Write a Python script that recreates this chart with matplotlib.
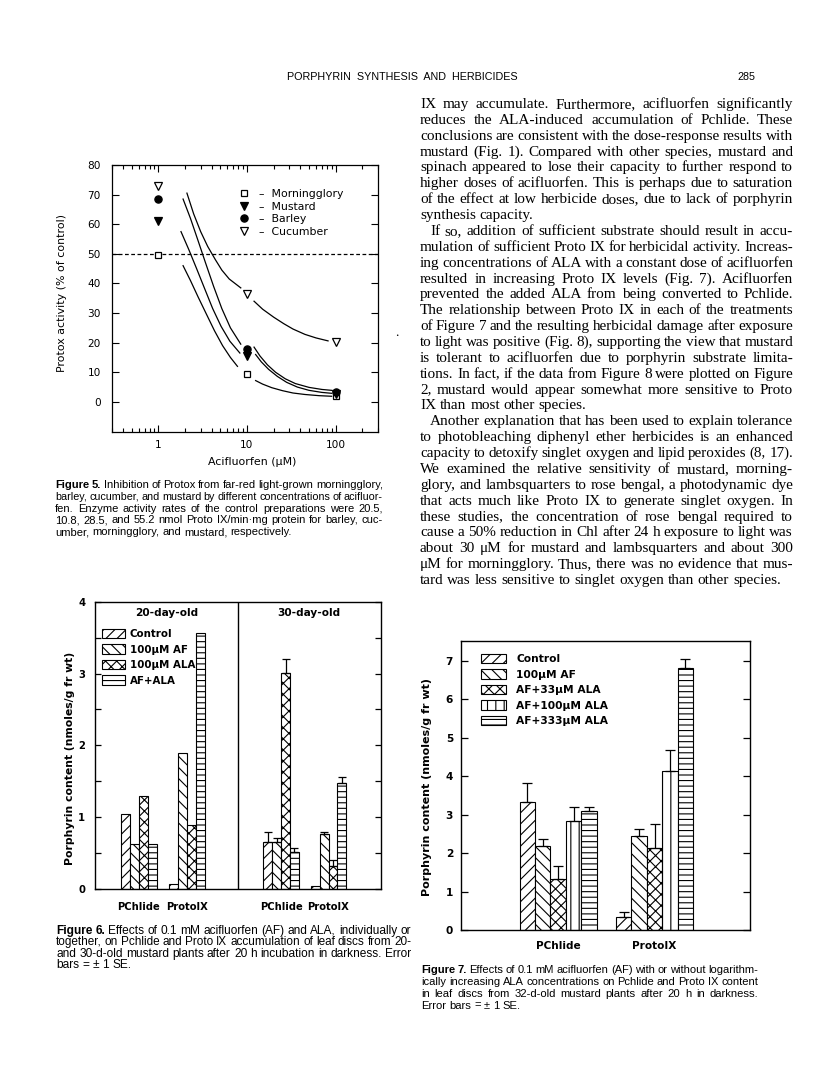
import matplotlib
matplotlib.use("Agg")
import matplotlib.pyplot as plt
import numpy as np
from matplotlib.font_manager import FontProperties
from matplotlib.lines import Line2D
from matplotlib.patches import Patch
from matplotlib.ticker import MultipleLocator, LogLocator, NullFormatter

W, H = 816, 1073
plt.rcParams['font.family'] = ['DejaVu Sans']
plt.rcParams['hatch.linewidth'] = 0.8

# ---------------- Figure 5 data ----------------
conc = [1, 10, 100]
species = ["Morningglory", "Mustard", "Barley", "Cucumber"]
morningglory = [49.5, 9.5, 2.0]
mustard = [61.0, 15.5, 2.8]
barley = [68.5, 18.0, 3.5]
cucumber = [73.0, 36.5, 20.2]
# fitted curves (drawn with gaps around the points)
cucumber_fit = [([2.1, 2.5, 3.0, 3.6, 4.4, 5.2, 6.3, 8.5],
                 [70.5, 63.5, 57.5, 52.5, 48.0, 44.5, 41.5, 38.5]),
                ([12, 15, 20, 26, 33, 45, 60, 82],
                 [34.0, 31.3, 28.6, 26.4, 24.6, 22.8, 21.6, 20.6])]
barley_fit = [([1.9, 2.3, 2.8, 3.4, 4.2, 5.2, 6.5, 8.5],
               [68.5, 62.0, 54.5, 47.0, 39.0, 31.5, 25.0, 19.5]),
              ([12, 14, 17, 21, 27, 35, 50, 70, 90],
               [18.5, 15.5, 12.5, 10.0, 7.8, 6.2, 4.9, 4.2, 3.9])]
mustard_fit = [([1.8, 2.2, 2.7, 3.3, 4.1, 5.1, 6.4, 8.3],
                [57.5, 51.5, 45.0, 38.5, 31.5, 25.5, 20.5, 16.5]),
               ([12.5, 14.5, 17.5, 22, 28, 37, 50, 70, 90],
                [16.0, 13.5, 11.0, 8.6, 6.6, 5.0, 3.9, 3.2, 2.9])]
morningglory_fit = [([1.9, 2.3, 2.8, 3.5, 4.3, 5.3, 6.5, 7.8],
                     [46.0, 41.0, 35.5, 29.5, 24.0, 19.0, 15.0, 12.0]),
                    ([12.5, 15, 19, 25, 33, 45, 65, 90],
                     [7.2, 6.0, 4.8, 3.8, 3.0, 2.5, 2.1, 1.9])]

# ---------------- Figure 6 data ----------------
groups6 = ["PChlide", "ProtoIX", "PChlide", "ProtoIX"]
treat6 = ["Control", "100μM AF", "100μM ALA", "AF+ALA"]
day20_pchlide = [1.05, 0.63, 1.29, 0.63]
day20_protoix = [0.07, 1.89, 0.89, 3.57]
day30_pchlide = [0.65, 0.66, 3.01, 0.51]
day30_pchlide_se = [0.14, 0.05, 0.19, 0.06]
day30_protoix = [0.04, 0.77, 0.32, 1.47]
day30_protoix_se = [0.0, 0.03, 0.08, 0.09]

# ---------------- Figure 7 data ----------------
groups7 = ["PChlide", "ProtoIX"]
treat7 = ["Control", "100μM AF", "AF+33μM ALA", "AF+100μM ALA", "AF+333μM ALA"]
pchlide7 = [3.32, 2.19, 1.33, 2.85, 3.10]
pchlide7_se = [0.50, 0.19, 0.34, 0.36, 0.09]
protoix7 = [0.35, 2.45, 2.14, 4.15, 6.81]
protoix7_se = [0.13, 0.18, 0.62, 0.54, 0.24]

# ---------------- page text ----------------
header = "PORPHYRIN  SYNTHESIS  AND  HERBICIDES"
page_no = "285"
caption5 = [["Figure 5. Inhibition of Protox from far-red light-grown morningglory,",
             "barley, cucumber, and mustard by different concentrations of acifluor-",
             "fen. Enzyme activity rates of the control preparations were 20.5,",
             "10.8, 28.5, and 55.2 nmol Proto IX/min·mg protein for barley, cuc-",
             "umber, morningglory, and mustard, respectively."]]
caption6 = [["Figure 6. Effects of 0.1 mM acifluorfen (AF) and ALA, individually or",
             "together, on Pchlide and Proto IX accumulation of leaf discs from 20-",
             "and 30-d-old mustard plants after 20 h incubation in darkness. Error",
             "bars = ± 1 SE."]]
caption7 = [["Figure 7. Effects of 0.1 mM acifluorfen (AF) with or without logarithm-",
             "ically increasing ALA concentrations on Pchlide and Proto IX content",
             "in leaf discs from 32-d-old mustard plants after 20 h in darkness.",
             "Error bars = ± 1 SE."]]
body = [
    ["IX may accumulate. Furthermore, acifluorfen significantly",
     "reduces the ALA-induced accumulation of Pchlide. These",
     "conclusions are consistent with the dose-response results with",
     "mustard (Fig. 1). Compared with other species, mustard and",
     "spinach appeared to lose their capacity to further respond to",
     "higher doses of acifluorfen. This is perhaps due to saturation",
     "of the effect at low herbicide doses, due to lack of porphyrin",
     "synthesis capacity."],
    ["If so, addition of sufficient substrate should result in accu-",
     "mulation of sufficient Proto IX for herbicidal activity. Increas-",
     "ing concentrations of ALA with a constant dose of acifluorfen",
     "resulted in increasing Proto IX levels (Fig. 7). Acifluorfen",
     "prevented the added ALA from being converted to Pchlide.",
     "The relationship between Proto IX in each of the treatments",
     "of Figure 7 and the resulting herbicidal damage after exposure",
     "to light was positive (Fig. 8), supporting the view that mustard",
     "is tolerant to acifluorfen due to porphyrin substrate limita-",
     "tions. In fact, if the data from Figure 8 were plotted on Figure",
     "2, mustard would appear somewhat more sensitive to Proto",
     "IX than most other species."],
    ["Another explanation that has been used to explain tolerance",
     "to photobleaching diphenyl ether herbicides is an enhanced",
     "capacity to detoxify singlet oxygen and lipid peroxides (8, 17).",
     "We examined the relative sensitivity of mustard, morning-",
     "glory, and lambsquarters to rose bengal, a photodynamic dye",
     "that acts much like Proto IX to generate singlet oxygen. In",
     "these studies, the concentration of rose bengal required to",
     "cause a 50% reduction in Chl after 24 h exposure to light was",
     "about 30 μM for mustard and lambsquarters and about 300",
     "μM for morningglory. Thus, there was no evidence that mus-",
     "tard was less sensitive to singlet oxygen than other species."],
]

fig = plt.figure(figsize=(W / 100, H / 100), dpi=100)
fig.patch.set_facecolor('white')
renderer = fig.canvas.get_renderer()


def add_axes_px(left, top, right, bottom):
    return fig.add_axes([left / W, 1 - bottom / H, (right - left) / W, (bottom - top) / H])


def fy(y):
    return 1 - y / H


def text_width(s, prop):
    t = fig.text(0, 0, s, fontproperties=prop)
    w = t.get_window_extent(renderer).width
    t.remove()
    return w


def typeset(paras, x0, x1, y0, dy, family, bold_lead=0, indent=0.0,
            min_space=0.8, pct=35):
    """Justified text block, one Text per word; tight lines get a slightly smaller size."""
    rows = []
    for pi, para in enumerate(paras):
        for li, line in enumerate(para):
            words = line.split()
            flags = [pi == 0 and li == 0 and k < bold_lead for k in range(len(words))]
            ind = indent if (li == 0 and pi > 0) else 0.0
            rows.append((words, flags, ind, li < len(para) - 1))
    base = 10.0
    props = {b: FontProperties(family=family, size=base, weight='bold' if b else 'normal')
             for b in (False, True)}
    sp = text_width('n n', props[False]) - text_width('nn', props[False])
    fits = []
    for words, flags, ind, just in rows:
        nat = sum(text_width(w, props[b]) for w, b in zip(words, flags))
        nat += min_space * sp * (len(words) - 1)
        fits.append(base * (x1 - x0 - ind) / nat)
    size = float(np.percentile([f for f, r in zip(fits, rows) if r[3]], pct))
    for r, ((words, flags, ind, just), fit) in enumerate(zip(rows, fits)):
        s = min(size, fit * 0.995)
        lp = {b: FontProperties(family=family, size=s, weight='bold' if b else 'normal')
              for b in (False, True)}
        texts = [fig.text(0, 0, w, fontproperties=lp[b], va='baseline') for w, b in zip(words, flags)]
        ws = [t.get_window_extent(renderer).width for t in texts]
        gap = sp * s / base
        if just and len(ws) > 1:
            gap = (x1 - x0 - ind - sum(ws)) / (len(ws) - 1)
        x = x0 + ind
        yb = y0 + r * dy + 0.26 * size * 100 / 72
        for t, w in zip(texts, ws):
            t.set_position((x / W, fy(yb)))
            x += w + gap


# ---------------- page header and body ----------------
hp = FontProperties(family='Liberation Sans', size=10)
hsize = 10 * (517 - 287) / text_width(header, hp)
fig.text(287 / W, fy(77), header, family='Liberation Sans', size=hsize, va='center')
fig.text(755 / W, fy(77), page_no, family='Liberation Sans', size=hsize, va='center', ha='right')

typeset(body, 420, 793, 104, 15.87, 'Liberation Serif', indent=10, min_space=0.8, pct=8)
typeset(caption5, 55, 383, 485, 11.8, 'Liberation Sans', bold_lead=2)
typeset(caption6, 56, 411, 930.7, 11.5, 'Liberation Sans', bold_lead=2)
typeset(caption7, 421, 758, 970, 11.9, 'Liberation Sans', bold_lead=2)
fig.text(397 / W, fy(335), "•", size=4, ha='center', va='center')

# ---------------- Figure 5 ----------------
ax5 = add_axes_px(112, 165, 378, 431.5)
ax5.set_xscale('log')
ax5.set_xlim(0.3, 300)
ax5.set_ylim(-10, 80)
for fit in (cucumber_fit, barley_fit, mustard_fit, morningglory_fit):
    for xs, ys in fit:
        ax5.plot(xs, ys, color='black', lw=0.9, solid_joinstyle='round')
ax5.axhline(50, color='black', lw=0.9, ls=(0, (3, 2)))
styles5 = {"Morningglory": ('s', 'white', 4.6, morningglory),
           "Mustard": ('v', 'black', 5.2, mustard),
           "Barley": ('o', 'black', 5.2, barley),
           "Cucumber": ('v', 'white', 5.4, cucumber)}
for name in ["Cucumber", "Morningglory", "Mustard", "Barley"]:
    m, fc, ms, vals = styles5[name]
    ax5.plot(conc, vals, ls='none', marker=m, ms=ms, mfc=fc, mec='black', mew=0.9, zorder=3)
handles5 = [Line2D([], [], ls='none', marker=styles5[n][0], ms=styles5[n][2],
                   mfc=styles5[n][1], mec='black', mew=0.9) for n in species]
ax5.legend(handles5, ['–  ' + n for n in species], loc='upper left',
           bbox_to_anchor=(0.475, 0.91), frameon=False, fontsize=7.8,
           handlelength=1.0, handletextpad=0.9, labelspacing=0.24,
           borderpad=0, borderaxespad=0)
ax5.set_yticks(range(0, 81, 10))
ax5.set_xticks([1, 10, 100], ['1', '10', '100'])
ax5.xaxis.set_minor_locator(LogLocator(base=10, subs=range(2, 10)))
ax5.xaxis.set_minor_formatter(NullFormatter())
ax5.tick_params(which='both', direction='in', top=True, right=True, labelsize=7.6, width=0.8)
ax5.tick_params(which='major', length=5)
ax5.tick_params(which='minor', length=3)
ax5.tick_params(axis='y', pad=8)
ax5.tick_params(axis='x', pad=6)
ax5.set_xlabel("Acifluorfen (μM)", fontsize=7.9, va='center')
ax5.xaxis.set_label_coords((252.5 - 112) / 266, -(462 - 431.5) / 266.5)
ax5.set_ylabel("Protox activity (% of control)", fontsize=7.9, va='center')
ax5.yaxis.set_label_coords((62.3 - 112) / 266, 1 - (293 - 165) / 266.5)
for s in ax5.spines.values():
    s.set_linewidth(0.9)

# ---------------- Figure 6 ----------------
hatches6 = ['///', '\\\\\\', 'xxx', '---']
group_pos6 = [1.23, 2.57, 5.21, 6.54]
w6 = 0.25
ax6 = add_axes_px(95, 601.7, 380.7, 889)
ax6.set_xlim(0, 8)
ax6.set_ylim(0, 4)
table6 = [day20_pchlide, day20_protoix, day30_pchlide, day30_protoix]
se6 = [None, None, day30_pchlide_se, day30_protoix_se]
for i in range(len(treat6)):
    xs = [g + (i - 1.5) * w6 for g in group_pos6]
    ax6.bar(xs, [vals[i] for vals in table6], w6, color='white', edgecolor='black',
            lw=0.8, hatch=hatches6[i], zorder=2)
for g, vals, se in zip(group_pos6, table6, se6):
    if se is None:
        continue
    for i in range(len(vals)):
        if se[i] > 0:
            ax6.errorbar(g + (i - 1.5) * w6, vals[i], yerr=[[0], [se[i]]], fmt='none',
                         ecolor='black', elinewidth=0.9, capsize=3.2, capthick=0.9, zorder=3)
ax6.axvline(4, color='black', lw=1.0)
title_prop = FontProperties(weight='bold', size=7.6)
ax6.text(0.25, 1 - (613 - 601.7) / 287.3, "20-day-old", transform=ax6.transAxes,
         ha='center', va='center', fontproperties=title_prop)
ax6.text(0.75, 1 - (613 - 601.7) / 287.3, "30-day-old", transform=ax6.transAxes,
         ha='center', va='center', fontproperties=title_prop)
handles6 = [Patch(facecolor='white', edgecolor='black', hatch=h, lw=0.8) for h in hatches6]
ax6.legend(handles6, treat6, loc='upper left', bbox_to_anchor=(0.023, 0.905), frameon=False,
           prop=FontProperties(weight='bold', size=7.4), handlelength=2.25, handleheight=1.0,
           handletextpad=0.5, labelspacing=0.52, borderpad=0, borderaxespad=0)
ax6.set_xticks(group_pos6, groups6)
ax6.yaxis.set_major_locator(MultipleLocator(1))
ax6.yaxis.set_minor_locator(MultipleLocator(0.5))
ax6.tick_params(axis='x', length=0, pad=9)
ax6.tick_params(axis='y', which='both', direction='in', right=True, length=4, width=0.9, pad=7)
for lab in ax6.get_xticklabels() + ax6.get_yticklabels():
    lab.set_fontproperties(FontProperties(weight='bold', size=7.2))
ax6.set_ylabel("Porphyrin content (nmoles/g fr wt)",
               fontproperties=FontProperties(weight='bold', size=7.8), va='center')
ax6.yaxis.set_label_coords((70 - 95) / 285.7, 1 - (758 - 601.7) / 287.3)
for s in ax6.spines.values():
    s.set_linewidth(1.0)

# ---------------- Figure 7 ----------------
hatches7 = ['///', '\\\\\\', 'xxx', '||', '---']
group_pos7 = [1.01, 2.01]
w7 = 0.16
ax7 = add_axes_px(460.7, 640.7, 750, 930)
ax7.set_xlim(0, 3)
ax7.set_ylim(0, 7.53)
table7 = [pchlide7, protoix7]
se7 = [pchlide7_se, protoix7_se]
for i in range(len(treat7)):
    xs = [g + (i - 2) * w7 for g in group_pos7]
    ax7.bar(xs, [vals[i] for vals in table7], w7, color='white', edgecolor='black',
            lw=0.8, hatch=hatches7[i], zorder=2)
    ax7.errorbar(xs, [vals[i] for vals in table7], yerr=[[0, 0], [se[i] for se in se7]],
                 fmt='none', ecolor='black', elinewidth=0.9, capsize=3.6, capthick=0.9, zorder=3)
handles7 = [Patch(facecolor='white', edgecolor='black', hatch=h, lw=0.8) for h in hatches7]
ax7.legend(handles7, treat7, loc='upper left', bbox_to_anchor=(0.07, 0.955), frameon=False,
           prop=FontProperties(weight='bold', size=7.7), handlelength=2.35, handleheight=1.0,
           handletextpad=0.95, labelspacing=0.47, borderpad=0, borderaxespad=0)
ax7.set_xticks(group_pos7, groups7)
ax7.yaxis.set_major_locator(MultipleLocator(1))
ax7.tick_params(axis='x', length=0, pad=8)
ax7.tick_params(axis='y', direction='in', right=True, length=5, width=0.9, pad=5.5)
for lab in ax7.get_xticklabels() + ax7.get_yticklabels():
    lab.set_fontproperties(FontProperties(weight='bold', size=7.6))
ax7.set_ylabel("Porphyrin content (nmoles/g fr wt)",
               fontproperties=FontProperties(weight='bold', size=8.0), va='center')
ax7.yaxis.set_label_coords((427 - 460.7) / 289.3, 1 - (786.5 - 640.7) / 289.3)
for s in ax7.spines.values():
    s.set_linewidth(1.0)

fig.savefig('out.png', dpi=100, facecolor='white')
